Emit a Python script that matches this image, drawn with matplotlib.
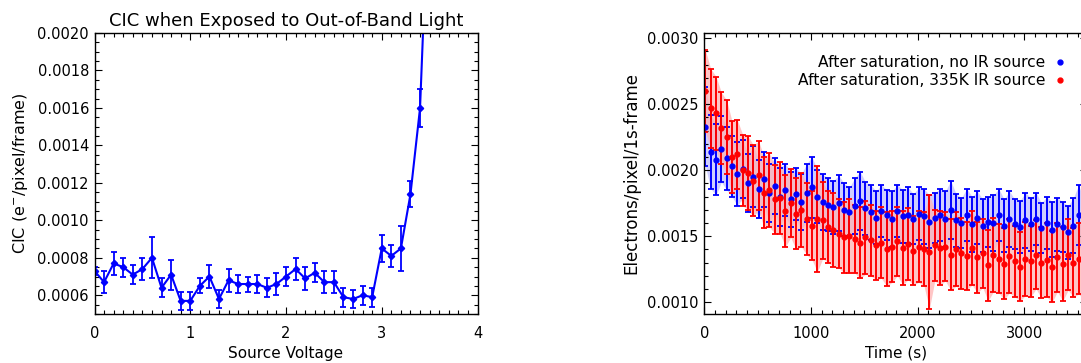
import matplotlib
matplotlib.use("Agg")
import matplotlib.pyplot as plt
import numpy as np
from matplotlib.lines import Line2D
from matplotlib.ticker import MultipleLocator, FormatStrFormatter

plt.rcParams['font.family'] = ['DejaVu Sans']

# left panel: CIC vs source voltage
voltage = [0.0, 0.1, 0.2, 0.3, 0.4, 0.5, 0.6, 0.7, 0.8, 0.9,
           1.0, 1.1, 1.2, 1.3, 1.4, 1.5, 1.6, 1.7, 1.8, 1.9,
           2.0, 2.1, 2.2, 2.3, 2.4, 2.5, 2.6, 2.7, 2.8, 2.9,
           3.0, 3.1, 3.2, 3.3, 3.4, 3.5]
cic = [0.00073, 0.00067, 0.00077, 0.00075, 0.00071, 0.00074, 0.00080, 0.00064, 0.00071, 0.00057,
       0.00057, 0.00065, 0.00070, 0.00058, 0.00068, 0.00066, 0.00066, 0.00066, 0.00064, 0.00066,
       0.00070, 0.00074, 0.00069, 0.00072, 0.00067, 0.00067, 0.00059, 0.00058, 0.00060, 0.00059,
       0.00085, 0.00081, 0.00085, 0.00114, 0.00160, 0.00290]
cic_err = [0.00002, 0.00006, 0.00006, 0.00005, 0.00005, 0.00006, 0.00011, 0.00005, 0.00008, 0.00005,
           0.00005, 0.00004, 0.00006, 0.00005, 0.00006, 0.00005, 0.00004, 0.00005, 0.00005, 0.00006,
           0.00005, 0.00006, 0.00006, 0.00005, 0.00006, 0.00006, 0.00005, 0.00005, 0.00005, 0.00005,
           0.00007, 0.00006, 0.00012, 0.00007, 0.00010, 0.00015]

# right panel: decay after saturation
time_s = [10, 60, 110, 160, 210, 260, 310, 360, 410, 460,
          510, 560, 610, 660, 710, 760, 810, 860, 910, 960,
          1010, 1060, 1110, 1160, 1210, 1260, 1310, 1360, 1410, 1460,
          1510, 1560, 1610, 1660, 1710, 1760, 1810, 1860, 1910, 1960,
          2010, 2060, 2110, 2160, 2210, 2260, 2310, 2360, 2410, 2460,
          2510, 2560, 2610, 2660, 2710, 2760, 2810, 2860, 2910, 2960,
          3010, 3060, 3110, 3160, 3210, 3260, 3310, 3360, 3410, 3460,
          3510, 3560]
no_ir = [0.00233, 0.00214, 0.00208, 0.00216, 0.00209, 0.00203, 0.00197, 0.00201, 0.00190, 0.00195,
         0.00186, 0.00193, 0.00183, 0.00188, 0.00180, 0.00185, 0.00178, 0.00182, 0.00176, 0.00183,
         0.00187, 0.00180, 0.00176, 0.00174, 0.00172, 0.00175, 0.00170, 0.00168, 0.00173, 0.00177,
         0.00171, 0.00168, 0.00164, 0.00169, 0.00166, 0.00163, 0.00169, 0.00165, 0.00166, 0.00163,
         0.00167, 0.00165, 0.00161, 0.00164, 0.00166, 0.00163, 0.00170, 0.00162, 0.00160, 0.00166,
         0.00159, 0.00164, 0.00158, 0.00161, 0.00160, 0.00166, 0.00158, 0.00163, 0.00159, 0.00157,
         0.00162, 0.00159, 0.00163, 0.00156, 0.00160, 0.00155, 0.00159, 0.00157, 0.00153, 0.00158,
         0.00166, 0.00156]
no_ir_err = [0.00030, 0.00028, 0.00027, 0.00025, 0.00024, 0.00023, 0.00024, 0.00022, 0.00022, 0.00023,
             0.00022, 0.00021, 0.00022, 0.00021, 0.00022, 0.00020, 0.00021, 0.00020, 0.00021, 0.00022,
             0.00023, 0.00020, 0.00021, 0.00020, 0.00020, 0.00021, 0.00020, 0.00019, 0.00021, 0.00022,
             0.00020, 0.00021, 0.00020, 0.00020, 0.00019, 0.00021, 0.00020, 0.00020, 0.00021, 0.00019,
             0.00020, 0.00021, 0.00020, 0.00019, 0.00020, 0.00021, 0.00022, 0.00020, 0.00019, 0.00020,
             0.00021, 0.00020, 0.00020, 0.00019, 0.00021, 0.00020, 0.00020, 0.00021, 0.00019, 0.00020,
             0.00021, 0.00020, 0.00020, 0.00019, 0.00020, 0.00021, 0.00020, 0.00019, 0.00020, 0.00021,
             0.00023, 0.00020]
ir_335k = [0.00260, 0.00247, 0.00243, 0.00232, 0.00225, 0.00210, 0.00212, 0.00200, 0.00198, 0.00192,
           0.00196, 0.00183, 0.00185, 0.00178, 0.00179, 0.00169, 0.00175, 0.00167, 0.00170, 0.00163,
           0.00158, 0.00163, 0.00162, 0.00157, 0.00155, 0.00152, 0.00149, 0.00150, 0.00148, 0.00145,
           0.00149, 0.00147, 0.00143, 0.00145, 0.00140, 0.00142, 0.00146, 0.00141, 0.00144, 0.00139,
           0.00142, 0.00140, 0.00138, 0.00143, 0.00141, 0.00142, 0.00136, 0.00140, 0.00137, 0.00135,
           0.00141, 0.00134, 0.00137, 0.00128, 0.00136, 0.00133, 0.00129, 0.00135, 0.00131, 0.00127,
           0.00133, 0.00131, 0.00136, 0.00130, 0.00132, 0.00127, 0.00134, 0.00129, 0.00136, 0.00130,
           0.00133, 0.00130]
ir_335k_err = [0.00031, 0.00030, 0.00028, 0.00027, 0.00028, 0.00027, 0.00026, 0.00027, 0.00028, 0.00027,
               0.00026, 0.00027, 0.00028, 0.00026, 0.00027, 0.00027, 0.00026, 0.00027, 0.00028, 0.00027,
               0.00026, 0.00040, 0.00029, 0.00027, 0.00028, 0.00026, 0.00027, 0.00028, 0.00026, 0.00027,
               0.00028, 0.00027, 0.00026, 0.00027, 0.00028, 0.00027, 0.00026, 0.00028, 0.00027, 0.00026,
               0.00027, 0.00028, 0.00043, 0.00027, 0.00028, 0.00026, 0.00027, 0.00028, 0.00027, 0.00026,
               0.00028, 0.00027, 0.00026, 0.00027, 0.00028, 0.00026, 0.00027, 0.00028, 0.00027, 0.00026,
               0.00028, 0.00027, 0.00026, 0.00027, 0.00028, 0.00027, 0.00026, 0.00028, 0.00027, 0.00026,
               0.00027, 0.00028]

W, H = 1081, 363
fig = plt.figure(figsize=(W / 100, H / 100), dpi=100)

FS = 10.5


def style_axes(ax):
    ax.tick_params(which='both', direction='in', top=True, right=True, labelsize=FS, width=0.8)
    ax.tick_params(which='major', length=5)
    ax.tick_params(which='minor', length=3)
    ax.tick_params(axis='y', pad=4)
    ax.tick_params(axis='x', pad=9)
    for s in ax.spines.values():
        s.set_linewidth(1.0)


# left
ax1 = fig.add_axes([94.5 / W, (H - 314) / H, 383 / W, (314 - 33) / H])
ax1.errorbar(voltage, cic, yerr=cic_err, color='#0000ff', lw=1.5, marker='D', ms=3.2,
             capsize=2.3, elinewidth=1.3, capthick=1.3)
ax1.set_xlim(0, 4)
ax1.set_ylim(0.0005, 0.0020)
ax1.xaxis.set_major_locator(MultipleLocator(1))
ax1.xaxis.set_minor_locator(MultipleLocator(0.1))
ax1.yaxis.set_major_locator(MultipleLocator(0.0002))
ax1.yaxis.set_minor_locator(MultipleLocator(0.00005))
ax1.yaxis.set_major_formatter(FormatStrFormatter('%.4f'))
style_axes(ax1)
ax1.set_title('CIC when Exposed to Out-of-Band Light', fontsize=13, pad=5)
ax1.set_xlabel('Source Voltage', fontsize=11, labelpad=3)
ax1.set_ylabel('CIC (e$^{-}$/pixel/frame)', fontsize=11.5, labelpad=5)

# right
ax2 = fig.add_axes([704.3 / W, (H - 314) / H, 383 / W, (314 - 33) / H])
t = np.array(time_s)
for vals, errs, col, tint in [(no_ir, no_ir_err, '#0000ff', '#c0c0ff'),
                              (ir_335k, ir_335k_err, '#ff0000', '#ffb4b4')]:
    v = np.array(vals)
    e = np.array(errs)
    ax2.fill_between(t, v - e, v + e, color=tint, alpha=0.75, lw=0)
    ax2.errorbar(t, v, yerr=e, color=col, ls='none', marker='o', ms=3.5,
                 capsize=2, elinewidth=1.4, capthick=1.3)
ax2.set_xlim(0, 3590)
ax2.set_ylim(0.00091, 0.00304)
ax2.xaxis.set_major_locator(MultipleLocator(1000))
ax2.xaxis.set_minor_locator(MultipleLocator(100))
ax2.yaxis.set_major_locator(MultipleLocator(0.0005))
ax2.yaxis.set_minor_locator(MultipleLocator(0.0001))
ax2.yaxis.set_major_formatter(FormatStrFormatter('%.4f'))
style_axes(ax2)
ax2.set_xlabel('Time (s)', fontsize=11, labelpad=3)
ax2.set_ylabel('Electrons/pixel/1s-frame', fontsize=12, labelpad=5)

handles = [Line2D([], [], ls='none', marker='o', ms=3.5, color='#0000ff'),
           Line2D([], [], ls='none', marker='o', ms=3.5, color='#ff0000')]
ax2.legend(handles, ['After saturation, no IR source', 'After saturation, 335K IR source'],
           loc='upper right', bbox_to_anchor=(1064 / W, 1 - 55 / H), bbox_transform=fig.transFigure,
           frameon=False, markerfirst=False, handlelength=0.5, handletextpad=0.7,
           borderpad=0, borderaxespad=0, labelspacing=0.2, fontsize=11.2)

fig.savefig('out.png', dpi=100)
